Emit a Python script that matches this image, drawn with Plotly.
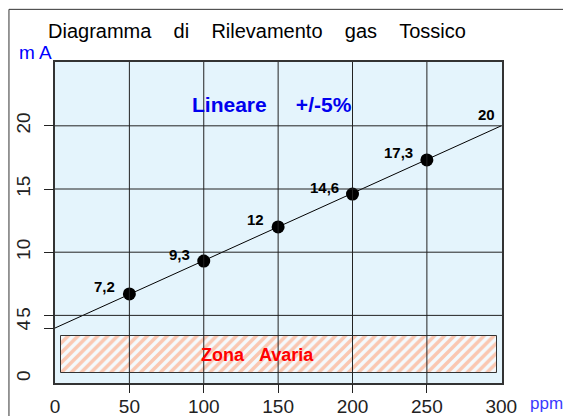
import plotly.graph_objects as go

# ---- data ----
ppm_points = [50, 100, 150, 200, 250]
ma_points = [6.7, 9.3, 12.0, 14.6, 17.3]
point_labels = ["7,2", "9,3", "12", "14,6", "17,3"]

line_ppm = [0, 300]
line_ma = [4, 20]
line_end_label = "20"

x_ticks = [0, 50, 100, 150, 200, 250, 300]
x_grid = [50, 100, 150, 200, 250]
y_ticks = [0, 4, 5, 10, 15, 20]
y_tickmarks = [4, 5, 10, 15, 20]
y_grid = [5, 10, 15, 20]

zone_ppm = [4, 297]
zone_ma = [0.45, 3.35]
zone_label_ppm = 136

x_range = [0, 300.5]
y_range = [-0.35, 25.05]

GRID = "#222222"
BG = "#e4f4fc"
NB = "\u00a0"
SANS = "Liberation Sans, Arial, Helvetica, sans-serif"

fig = go.Figure()

# hatched failure zone
fig.add_trace(go.Bar(
    x=[(zone_ppm[0] + zone_ppm[1]) / 2], y=[zone_ma[1] - zone_ma[0]],
    base=[zone_ma[0]], width=[zone_ppm[1] - zone_ppm[0]],
    marker=dict(color="#f4fafd", line=dict(color="#333333", width=1),
                pattern=dict(shape="/", fgcolor="#ff9466", bgcolor="#f4fafd",
                             size=7, solidity=0.5)),
    showlegend=False, hoverinfo="skip"))

# vertical grid lines (drawn above the zone)
vx, vy = [], []
for v in x_grid:
    vx += [v, v, None]
    vy += [y_range[0], y_range[1], None]
fig.add_trace(go.Scatter(x=vx, y=vy, mode="lines", xaxis="x2",
                         line=dict(color=GRID, width=1),
                         showlegend=False, hoverinfo="skip"))

# horizontal grid lines
hx, hy = [], []
for v in y_grid:
    hx += [x_range[0], x_range[1], None]
    hy += [v, v, None]
fig.add_trace(go.Scatter(x=hx, y=hy, mode="lines", yaxis="y2",
                         line=dict(color=GRID, width=1),
                         showlegend=False, hoverinfo="skip"))

# calibration line
fig.add_trace(go.Scatter(x=line_ppm, y=line_ma, mode="lines",
                         line=dict(color="black", width=1),
                         showlegend=False, hoverinfo="skip", cliponaxis=False))

# points
fig.add_trace(go.Scatter(x=ppm_points, y=ma_points, mode="markers",
                         marker=dict(color="black", size=13),
                         showlegend=False, hoverinfo="skip"))

label_font = dict(family="Liberation Sans Narrow, Arial Narrow, Liberation Sans, sans-serif",
                  size=15, color="black")
annotations = []
for xv, yv, t in zip(ppm_points, ma_points, point_labels):
    annotations.append(dict(x=xv, y=yv, text="<b>" + t + "</b>", showarrow=False,
                            xanchor="right", yanchor="middle", xshift=-12, yshift=7,
                            font=label_font))
annotations.append(dict(x=line_ppm[-1], y=line_ma[-1], text="<b>" + line_end_label + "</b>",
                        showarrow=False, xanchor="right", yanchor="bottom",
                        xshift=-4, yshift=1, font=label_font))

annotations.append(dict(x=zone_label_ppm, y=(zone_ma[0] + zone_ma[1]) / 2,
                        text="<b>Zona" + NB * 3 + "Avaria</b>", showarrow=False,
                        xanchor="center", yanchor="middle",
                        font=dict(family=SANS, size=18, color="#ff0000")))

annotations.append(dict(x=0.303, y=0.868, xref="paper", yref="paper",
                        text="<b>Lineare" + NB * 5 + "+/-5%</b>", showarrow=False,
                        xanchor="left", yanchor="middle",
                        font=dict(family=SANS, size=21, color="#0000ee")))

annotations.append(dict(x=0.452, y=1.0955, xref="paper", yref="paper",
                        text=("Diagramma" + NB * 4 + "di" + NB * 4 + "Rilevamento" + NB * 4 +
                              "gas" + NB * 4 + "Tossico"),
                        showarrow=False, xanchor="center", yanchor="middle",
                        font=dict(family=SANS, size=20, color="black")))

annotations.append(dict(x=-0.085, y=1.03, xref="paper", yref="paper", text="m A",
                        showarrow=False, xanchor="left", yanchor="middle",
                        font=dict(family=SANS, size=19, color="#0000ff")))

annotations.append(dict(x=1.058, y=-0.064, xref="paper", yref="paper", text="ppm",
                        showarrow=False, xanchor="left", yanchor="middle",
                        font=dict(family=SANS, size=17, color="#3a3aff")))

tick_font = dict(family=SANS, size=19, color="#222222")

fig.update_layout(
    width=563, height=416,
    margin=dict(l=55, r=61, t=62, b=33, autoexpand=False),
    paper_bgcolor="white", plot_bgcolor=BG,
    bargap=0,
    annotations=annotations,
    xaxis=dict(range=x_range, tickmode="array", tickvals=x_ticks, ticktext=[str(v) for v in x_ticks],
               ticks="outside", ticklen=5, tickcolor="rgba(0,0,0,0)", automargin=False,
               showgrid=False, zeroline=False, tickfont=tick_font,
               showline=True, linecolor="#333333", linewidth=1.5, mirror=True),
    xaxis2=dict(range=x_range, overlaying="x", anchor="y", side="bottom", automargin=False,
                tickmode="array", tickvals=x_grid, ticks="outside", ticklen=9,
                tickcolor=GRID, tickwidth=1, showticklabels=False,
                showgrid=False, zeroline=False, showline=False),
    yaxis=dict(range=y_range, tickmode="array", tickvals=y_ticks, ticktext=[str(v) for v in y_ticks],
               ticks="outside", ticklen=16, tickcolor="rgba(0,0,0,0)", automargin=False,
               showgrid=False, zeroline=False, tickfont=tick_font, tickangle=-90,
               showline=True, linecolor="#333333", linewidth=1.5, mirror=True),
    yaxis2=dict(range=y_range, overlaying="y", anchor="x", side="left", automargin=False,
                tickmode="array", tickvals=y_tickmarks, ticks="outside", ticklen=10,
                tickcolor=GRID, tickwidth=1, showticklabels=False,
                showgrid=False, zeroline=False, showline=False),
    shapes=[dict(type="path", xref="paper", yref="paper",
                 path="M -0.103,-0.3 L -0.103,1.164 L 1.3,1.164",
                 line=dict(color="#333333", width=1))],
)

fig.write_html("out.html", config={"displayModeBar": False},
               post_script="document.body.style.margin='0';document.body.style.overflow='hidden';")
